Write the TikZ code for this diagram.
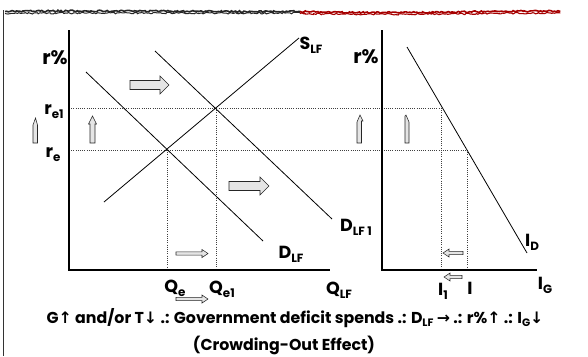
\documentclass[tikz,border=0pt]{standalone}
\usepackage{fontspec}
\setmainfont{Poppins}
\newfontfamily\symf{DejaVu Sans}
\usetikzlibrary{decorations.pathmorphing}
\newcommand\lsub[1]{\raisebox{-0.4ex}{\scalebox{0.68}{#1}}}
\tikzset{
  axisline/.style={line width=1.7pt},
  curve/.style={line width=0.8pt},
  guide/.style={line width=0.5pt, black!75, dash pattern=on 1pt off 1.2pt},
  blk/.style={draw=black!85, fill=black!10, line width=0.55pt},
  lbl/.style={font=\fontsize{17.5}{17.5}\selectfont\bfseries, inner sep=0pt},
  biglbl/.style={font=\fontsize{19.5}{19.5}\selectfont\bfseries, inner sep=0pt},
  captxt/.style={font=\fontsize{15.8}{15.8}\selectfont\bfseries, inner sep=0pt},
  brushK/.style={black!85, line width=1.6pt, decorate, decoration={random steps, segment length=1.6pt, amplitude=0.8pt}},
  brushR/.style={red!65!black, line width=1.6pt, decorate, decoration={random steps, segment length=1.6pt, amplitude=0.8pt}},
}
\begin{document}
\begin{tikzpicture}[x=1pt,y=-1pt]
\useasboundingbox (0,0) rectangle (588,356);
\pgfmathsetseed{7}
% top brush stroke
\draw[brushK] (5,11.5) .. controls (100,10) and (200,12) .. (300,11.5);
\draw[brushK, line width=1pt] (5,13.5) .. controls (100,12.5) and (200,13.5) .. (300,13);
\draw[brushR] (300,11.5) .. controls (400,14) and (480,11) .. (560,11);
\draw[brushR, line width=1.1pt] (300,13.5) .. controls (400,15.5) and (480,13) .. (560,13);
% left border
\coordinate (lb1) at (3.5,10);
\coordinate (lb2) at (3.5,356);
\draw[line width=0.8pt, black!80] (lb1) -- (lb2);

% ---- left graph ----
\coordinate (O1) at (69,270);
\coordinate (Y1) at (69,30);
\coordinate (X1) at (330,270);
\coordinate (s1) at (104,202);
\coordinate (s2) at (299,38);
\coordinate (d1) at (86,72);
\coordinate (d2) at (263,241);
\coordinate (e1) at (155,51);
\coordinate (e2) at (332,219);
\coordinate (E0) at (167.5,150);
\coordinate (E1) at (216,108);
\coordinate (qe) at (167.5,270);
\coordinate (qe1) at (216,270);
% ---- right graph ----
\coordinate (O2) at (382,270);
\coordinate (Y2) at (382,30);
\coordinate (X2) at (537,270);
\coordinate (i1) at (407,47);
\coordinate (i2) at (527,253);
\coordinate (F1) at (441.5,108);
\coordinate (F0) at (467,150);
\coordinate (ia) at (441.5,270);
\coordinate (ib) at (467,270);
\coordinate (yl1) at (69,108);
\coordinate (yl0) at (69,150);

% guides
\draw[guide] (yl1) -- (F1);
\draw[guide] (yl0) -- (F0);
\draw[guide] (E0) -- (qe);
\draw[guide] (E1) -- (qe1);
\draw[guide] (F1) -- (ia);
\draw[guide] (F0) -- (ib);

% axes
\draw[axisline] (Y1) -- (O1) -- (X1);
\draw[axisline] (Y2) -- (O2) -- (X2);

% curves
\draw[curve] (s1) -- (s2);
\draw[curve] (d1) -- (d2);
\draw[curve] (e1) -- (e2);
\draw[curve] (i1) -- (i2);

% labels
\node[biglbl] (rl) at (55,58) {r\%};
\node[biglbl] (rr) at (366,57) {r\%};
\node[lbl] (re1) at (54,112) {r\lsub{e1}};
\node[lbl] (re) at (53,155) {r\lsub{e}};
\node[lbl] (slf) at (311,45) {S\lsub{LF}};
\node[lbl] (dlf) at (291,254) {D\lsub{LF}};
\node[lbl] (dlf1) at (356,227) {D\lsub{LF 1}};
\node[lbl] (qlf) at (339,290) {Q\lsub{LF}};
\node[lbl] (qel) at (175,288) {Q\lsub{e}};
\node[lbl] (qe1l) at (222,289) {Q\lsub{e1}};
\node[lbl] (i1l) at (443,291) {I\lsub{1}};
\node[lbl] (il) at (470,288) {I};
\node[lbl] (igl) at (545,285) {I\lsub{G}};
\node[lbl] (idl) at (532,242) {I\lsub{D}};

% block arrows (right)
\draw[blk] (130,80.5) -- (160,80.5) -- (160,76) -- (169,85) -- (160,94) -- (160,89.5) -- (130,89.5) -- cycle;
\draw[blk] (229,181.5) -- (260,181.5) -- (260,177) -- (269,186) -- (260,195) -- (260,190.5) -- (229,190.5) -- cycle;
\draw[blk] (176,251.8) -- (202,251.8) -- (202,249.5) -- (208,253.5) -- (202,257.5) -- (202,255.2) -- (176,255.2) -- cycle;
\draw[blk] (176,297.3) -- (202,297.3) -- (202,295) -- (208,299) -- (202,303) -- (202,300.7) -- (176,300.7) -- cycle;
% block arrows (left)
\draw[blk] (463,251.3) -- (449,251.3) -- (449,249) -- (443,253) -- (449,257) -- (449,254.7) -- (463,254.7) -- cycle;
\draw[blk] (462,275.3) -- (450,275.3) -- (450,273) -- (444,277) -- (450,281) -- (450,278.7) -- (462,278.7) -- cycle;
% block arrows (up)
\draw[blk] (33,143) -- (33,125) -- (35.5,118) -- (37.5,125) -- (37.5,143) -- cycle;
\draw[blk] (90,143) -- (90,124) -- (88.5,124) -- (92.5,116) -- (96.5,124) -- (95,124) -- (95,143) -- cycle;
\draw[blk] (357,143) -- (357,122) -- (360,115) -- (363,121) -- (361.5,121) -- (361.5,143) -- cycle;
\draw[blk] (405,143) -- (405,116) -- (406,115) -- (409,122) -- (409,143) -- cycle;

% caption
\node[captxt] (cap1) at (295,318) {G{\symf\bfseries↑} and/or T{\symf\bfseries↓} .: Government deficit spends .: D\lsub{LF} {\symf\bfseries→} .: r\%{\symf\bfseries↑} .: I\lsub{G}{\symf\bfseries↓}};
\node[captxt] (cap2) at (284,345) {(Crowding-Out Effect)};
\end{tikzpicture}
\end{document}
